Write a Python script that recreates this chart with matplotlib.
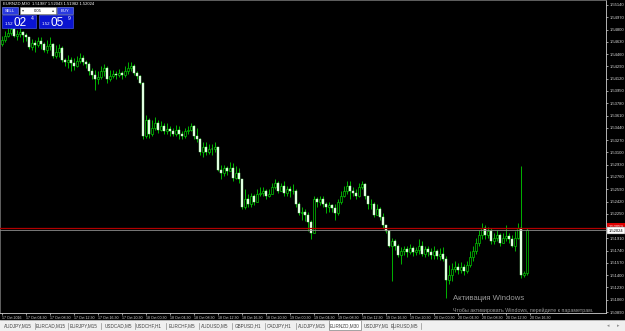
import matplotlib.pyplot as plt
import matplotlib.transforms as mtransforms
from matplotlib.patches import Rectangle
import numpy as np

plt.rcParams["font.family"] = ["Liberation Sans", "DejaVu Sans"]

# EURNZD M30 candles
first_open = 1.5460
closes = [1.5466, 1.5471, 1.5475, 1.5481, 1.5471, 1.5474, 1.5477, 1.5473, 1.5469, 1.5456,
          1.5462, 1.5459, 1.5464, 1.5460, 1.5452, 1.5457, 1.5460, 1.5444, 1.5449, 1.5455,
          1.5438, 1.5435, 1.5438, 1.5434, 1.5430, 1.5437, 1.5441, 1.5435, 1.5433, 1.5422,
          1.5417, 1.5412, 1.5415, 1.5422, 1.5427, 1.5411, 1.5416, 1.5419, 1.5417, 1.5420,
          1.5417, 1.5422, 1.5427, 1.5430, 1.5420, 1.5416, 1.5406, 1.5332, 1.5355, 1.5335,
          1.5344, 1.5350, 1.5341, 1.5346, 1.5339, 1.5343, 1.5340, 1.5336, 1.5341, 1.5335,
          1.5333, 1.5339, 1.5341, 1.5346, 1.5332, 1.5328, 1.5311, 1.5317, 1.5310, 1.5315,
          1.5314, 1.5317, 1.5286, 1.5281, 1.5288, 1.5284, 1.5289, 1.5275, 1.5281, 1.5273,
          1.5234, 1.5245, 1.5238, 1.5249, 1.5242, 1.5252, 1.5254, 1.5257, 1.5250, 1.5253,
          1.5262, 1.5267, 1.5257, 1.5264, 1.5254, 1.5259, 1.5256, 1.5257, 1.5238, 1.5226,
          1.5228, 1.5223, 1.5213, 1.5199, 1.5245, 1.5241, 1.5246, 1.5238, 1.5234, 1.5237,
          1.5233, 1.5226, 1.5242, 1.5250, 1.5256, 1.5264, 1.5257, 1.5254, 1.5250, 1.5262,
          1.5266, 1.5249, 1.5238, 1.5239, 1.5224, 1.5231, 1.5221, 1.5209, 1.5201, 1.5181,
          1.5187, 1.5180, 1.5168, 1.5173, 1.5176, 1.5172, 1.5177, 1.5172, 1.5175, 1.5180,
          1.5170, 1.5176, 1.5172, 1.5168, 1.5173, 1.5166, 1.5170, 1.5163, 1.5134, 1.5140,
          1.5148, 1.5152, 1.5147, 1.5151, 1.5146, 1.5154, 1.5165, 1.5173, 1.5184, 1.5195,
          1.5206, 1.5195, 1.5201, 1.5187, 1.5192, 1.5196, 1.5185, 1.5191, 1.5194, 1.5190,
          1.5181, 1.5192, 1.5205, 1.5140, 1.5143, 1.52024]
highs = [1.5471, 1.5478, 1.5482, 1.5485, 1.5484, 1.5480, 1.5484, 1.5478, 1.5475, 1.5470,
         1.5467, 1.5466, 1.5470, 1.5469, 1.5463, 1.5466, 1.5469, 1.5462, 1.5459, 1.5460,
         1.5457, 1.5441, 1.5445, 1.5442, 1.5440, 1.5444, 1.5448, 1.5445, 1.5438, 1.5435,
         1.5427, 1.5424, 1.5423, 1.5430, 1.5433, 1.5430, 1.5424, 1.5424, 1.5423, 1.5426,
         1.5423, 1.5430, 1.5435, 1.5435, 1.5433, 1.5423, 1.5417, 1.5408, 1.5362, 1.5358,
         1.5355, 1.5359, 1.5355, 1.5354, 1.5350, 1.5351, 1.5347, 1.5344, 1.5348, 1.5346,
         1.5340, 1.5344, 1.5347, 1.5350, 1.5348, 1.5344, 1.5330, 1.5325, 1.5324, 1.5322,
         1.5321, 1.5324, 1.5318, 1.5293, 1.5292, 1.5291, 1.5296, 1.5295, 1.5291, 1.5288,
         1.5270, 1.5259, 1.5252, 1.5254, 1.5253, 1.5259, 1.5262, 1.5262, 1.5259, 1.5260,
         1.5268, 1.5273, 1.5270, 1.5268, 1.5271, 1.5264, 1.5263, 1.5266, 1.5259, 1.5241,
         1.5234, 1.5231, 1.5228, 1.5217, 1.5250, 1.5248, 1.5250, 1.5249, 1.5241, 1.5242,
         1.5239, 1.5239, 1.5246, 1.5256, 1.5264, 1.5271, 1.5270, 1.5262, 1.5259, 1.5268,
         1.5271, 1.5268, 1.5250, 1.5245, 1.5242, 1.5238, 1.5235, 1.5226, 1.5210, 1.5203,
         1.5192, 1.5190, 1.5183, 1.5179, 1.5181, 1.5180, 1.5183, 1.5180, 1.5179, 1.5190,
         1.5188, 1.5181, 1.5180, 1.5177, 1.5180, 1.5176, 1.5177, 1.5179, 1.5166, 1.5154,
         1.5157, 1.5159, 1.5157, 1.5158, 1.5155, 1.5159, 1.5173, 1.5181, 1.5192, 1.5203,
         1.5212, 1.5210, 1.5207, 1.5205, 1.5199, 1.5202, 1.5199, 1.5198, 1.5209, 1.5199,
         1.5195, 1.5201, 1.5212, 1.5291, 1.5146, 1.5205]
lows = [1.5457, 1.5463, 1.5469, 1.5473, 1.5469, 1.5466, 1.5469, 1.5463, 1.5464, 1.5453,
        1.5452, 1.5449, 1.5456, 1.5453, 1.5449, 1.5448, 1.5452, 1.5441, 1.5441, 1.5442,
        1.5435, 1.5430, 1.5427, 1.5422, 1.5424, 1.5428, 1.5434, 1.5431, 1.5427, 1.5417,
        1.5411, 1.5397, 1.5405, 1.5411, 1.5416, 1.5406, 1.5409, 1.5413, 1.5412, 1.5415,
        1.5412, 1.5415, 1.5419, 1.5422, 1.5417, 1.5411, 1.5404, 1.5328, 1.5330, 1.5330,
        1.5333, 1.5341, 1.5337, 1.5339, 1.5336, 1.5336, 1.5333, 1.5332, 1.5333, 1.5329,
        1.5328, 1.5330, 1.5335, 1.5339, 1.5328, 1.5324, 1.5306, 1.5303, 1.5307, 1.5308,
        1.5307, 1.5310, 1.5284, 1.5273, 1.5277, 1.5279, 1.5284, 1.5270, 1.5273, 1.5267,
        1.5231, 1.5231, 1.5234, 1.5235, 1.5237, 1.5241, 1.5249, 1.5250, 1.5246, 1.5248,
        1.5253, 1.5260, 1.5254, 1.5256, 1.5249, 1.5250, 1.5248, 1.5253, 1.5234, 1.5223,
        1.5217, 1.5215, 1.5201, 1.5190, 1.5199, 1.5234, 1.5237, 1.5234, 1.5226, 1.5227,
        1.5228, 1.5217, 1.5223, 1.5239, 1.5248, 1.5252, 1.5245, 1.5249, 1.5245, 1.5248,
        1.5259, 1.5245, 1.5231, 1.5231, 1.5220, 1.5227, 1.5217, 1.5205, 1.5198, 1.5179,
        1.5132, 1.5175, 1.5165, 1.5155, 1.5168, 1.5165, 1.5169, 1.5166, 1.5168, 1.5169,
        1.5166, 1.5165, 1.5166, 1.5163, 1.5163, 1.5162, 1.5161, 1.5159, 1.5108, 1.5128,
        1.5132, 1.5144, 1.5141, 1.5143, 1.5140, 1.5143, 1.5151, 1.5159, 1.5170, 1.5180,
        1.5190, 1.5190, 1.5192, 1.5183, 1.5183, 1.5188, 1.5181, 1.5184, 1.5187, 1.5184,
        1.5179, 1.5173, 1.5190, 1.5136, 1.5137, 1.5140]

bid = 1.52024
ask = 1.52059

price_labels = [1.55140, 1.54970, 1.54800, 1.54630, 1.54460, 1.54290, 1.54120, 1.53950,
                1.53780, 1.53610, 1.53440, 1.53270, 1.53100, 1.52930, 1.52760, 1.52590,
                1.52420, 1.52250, 1.52080, 1.51910, 1.51740, 1.51570, 1.51400, 1.51230,
                1.51060, 1.50890]
time_labels = ["17 Oct 2016", "17 Oct 04:30", "17 Oct 08:30", "17 Oct 12:30", "17 Oct 16:30",
               "17 Oct 20:30", "18 Oct 00:30", "18 Oct 04:30", "18 Oct 08:30", "18 Oct 12:30",
               "18 Oct 16:30", "18 Oct 20:30", "19 Oct 00:30", "19 Oct 04:30", "19 Oct 08:30",
               "19 Oct 12:30", "19 Oct 16:30", "19 Oct 20:30", "20 Oct 00:30", "20 Oct 04:30",
               "20 Oct 08:30", "20 Oct 12:30", "20 Oct 16:30"]
tabs = ["AUDJPY,M15", "EURCAD,M15", "EURJPY,M15", "USDCAD,M5", "USDCHF,H1", "EURCHF,M5",
        "AUDUSD,M5", "GBPUSD,H1", "CADJPY,H1", "AUDJPY,M15", "EURNZD,M30", "USDJPY,M1",
        "EURUSD,M5"]
tab_x = [18, 51, 84, 118, 149, 182, 215, 248, 279, 312, 345, 376, 404]
active_tab = "EURNZD,M30"

W, H = 625, 331
fig = plt.figure(figsize=(W / 100, H / 100), dpi=100, facecolor="black")
ax = fig.add_axes([0, 18 / H, 606 / W, 313 / H])
ax.set_facecolor("black")

c = np.array(closes)
o = np.array([first_open] + closes[:-1])
x = np.arange(len(c))
up = c >= o
body_lo = np.minimum(o, c)
body_h = np.maximum(np.abs(c - o), 0.00003)

ax.vlines(x, lows, highs, color="#00b400", lw=0.7, zorder=2)
ax.bar(x[up], body_h[up], bottom=body_lo[up], width=0.66, color="black",
       edgecolor="#00c800", lw=0.5, zorder=3)
ax.bar(x[~up], body_h[~up], bottom=body_lo[~up], width=0.66, color="#f2fff2",
       edgecolor="#9cff9c", lw=0.3, zorder=3)

ax.axhline(ask, color="#b00000", lw=0.9, zorder=4)
ax.axhline(bid, color="#8c8c8c", lw=0.6, zorder=4)

ax.set_xlim(-2 / 3, 604 / 3)
ax.set_ylim(1.50877, 1.55209)

ax.yaxis.tick_right()
ax.set_yticks(price_labels)
# the label right behind the price boxes is covered in the terminal
ax.set_yticklabels(["" if abs(p - ask) < 0.0005 else f"{p:.5f}" for p in price_labels])
ax.tick_params(axis="y", colors="#d8d8d8", labelsize=3, length=1.5, width=0.5, pad=1)
ax.set_xticks(np.arange(len(time_labels)) * 8)
ax.set_xticklabels(time_labels)
ax.tick_params(axis="x", colors="#d8d8d8", labelsize=2.6, length=1.5, width=0.5, pad=1)
for t in ax.get_xticklabels():
    t.set_ha("left")
for side in ["top", "left"]:
    ax.spines[side].set_color("#707070")
    ax.spines[side].set_linewidth(0.6)
for side in ["right", "bottom"]:
    ax.spines[side].set_color("#d0d0d0")
    ax.spines[side].set_linewidth(0.6)

# price boxes on the axis
tr = mtransforms.blended_transform_factory(ax.transAxes, ax.transData)
ax.text(1.004, ask + 0.00012, f"{ask:.5f}", transform=tr, fontsize=3, color="white",
        va="center", ha="left", clip_on=False, zorder=10,
        bbox=dict(boxstyle="square,pad=0.35", fc="#e00000", ec="none"))
ax.text(1.004, bid - 0.0001, f"{bid:.5f}", transform=tr, fontsize=3, color="black",
        va="center", ha="left", clip_on=False, zorder=10,
        bbox=dict(boxstyle="square,pad=0.35", fc="white", ec="#606060", lw=0.3))

# overlay in pixel units for the terminal decorations
ov = fig.add_axes([0, 0, 1, 1])
ov.set_xlim(0, W)
ov.set_ylim(H, 0)
ov.axis("off")
ov.patch.set_alpha(0)

ov.text(3, 3.5, "EURNZD,M30  1.51987 1.52043 1.51982 1.52024", fontsize=3, color="white",
        va="center")

# one click trading panel
ov.add_patch(Rectangle((2, 7), 16, 7, fc="#2a3ae0", ec="#8090ff", lw=0.4))
ov.text(10, 10.5, "SELL", fontsize=3, color="white", ha="center", va="center")
ov.add_patch(Rectangle((20, 7), 36, 7, fc="white", ec="#a0a0a0", lw=0.4))
ov.text(23, 10.5, "\u25be", fontsize=3, color="#404040", ha="center", va="center")
ov.text(53, 10.5, "\u25b4", fontsize=3, color="#404040", ha="center", va="center")
ov.text(38, 10.5, "0.05", fontsize=3, color="black", ha="center", va="center")
ov.add_patch(Rectangle((57, 7), 16, 7, fc="#2a3ae0", ec="#8090ff", lw=0.4))
ov.text(65, 10.5, "BUY", fontsize=3, color="white", ha="center", va="center")
for bx, big, sup in [(2, "02", "4"), (39, "05", "9")]:
    ov.add_patch(Rectangle((bx, 14.5), 34, 13, fc="#0a14d0", ec="#5060ff", lw=0.4))
    ov.text(bx + 2.5, 25, "1.52", fontsize=3.2, color="white", va="baseline")
    ov.text(bx + 11.5, 26.5, big, fontsize=8.5, color="white", va="baseline")
    ov.text(bx + 28.5, 18.5, sup, fontsize=3.6, color="white", va="center")

# windows watermark
ov.text(453, 299, "Активация Windows", fontsize=5.6, color="#9a9a9a", va="center")
ov.text(453, 310, "Чтобы активировать Windows, перейдите к параметрам.", fontsize=3.8,
        color="#9a9a9a", va="center")

# tab bar
ov.add_patch(Rectangle((0, 320), W, 11, fc="#f0f0f0", ec="none"))
ov.plot([0, W], [320, 320], color="#a0a0a0", lw=0.5)
for name, tx in zip(tabs, tab_x):
    if name == active_tab:
        ov.add_patch(Rectangle((tx - 16, 320), 32, 10, fc="white", ec="#808080", lw=0.5))
    else:
        ov.plot([tx + 16.5, tx + 16.5], [322.5, 328.5], color="#909090", lw=0.5)
    ov.text(tx, 325.5, name, fontsize=3.3, color="#404040", ha="center", va="center")
ov.text(608, 325.5, "\u25c2", fontsize=3.5, color="#909090", ha="center", va="center")
ov.text(618, 325.5, "\u25b8", fontsize=3.5, color="#909090", ha="center", va="center")

fig.savefig("out.png", dpi=100, facecolor="black")
